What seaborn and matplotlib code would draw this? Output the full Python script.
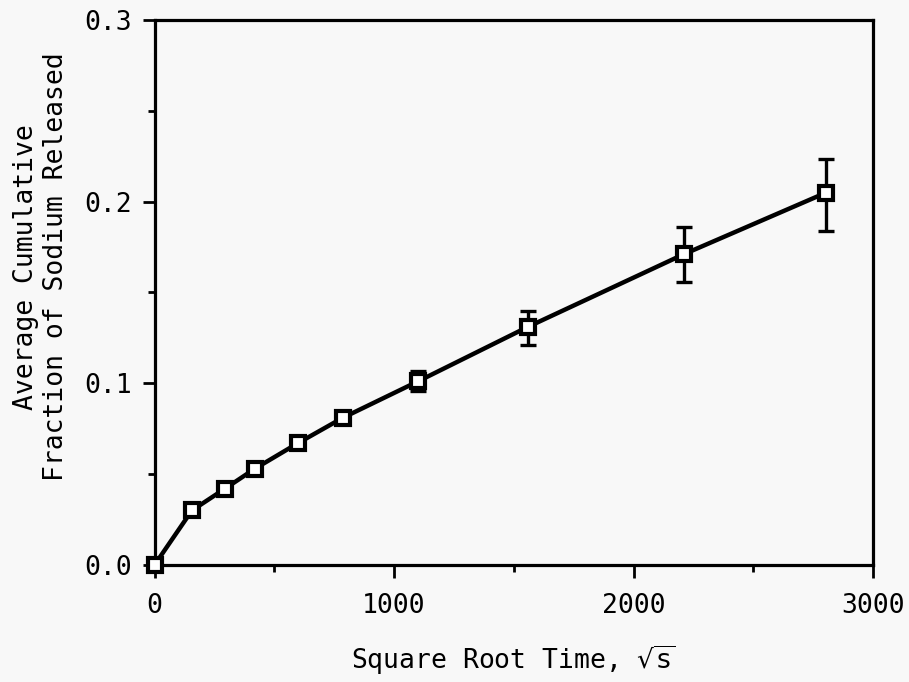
import matplotlib
matplotlib.use("Agg")
from matplotlib import pyplot as plt
from matplotlib.ticker import MultipleLocator
import numpy as np
import seaborn as sns

# sqrt time (sqrt s) and average cumulative fraction of Na released
sqrt_time = [0, 156, 294, 419, 598, 786, 1099, 1558, 2209, 2805]
na_fraction = [0.0, 0.030, 0.042, 0.053, 0.067, 0.081, 0.101, 0.131, 0.171, 0.205]
err_low = [np.nan, np.nan, np.nan, np.nan, np.nan, np.nan, 0.096, 0.121, 0.156, 0.184]
err_high = [np.nan, np.nan, np.nan, np.nan, np.nan, np.nan, 0.107, 0.140, 0.186, 0.2235]

x_ticks = [0, 1000, 2000, 3000]
y_ticks = [0.0, 0.1, 0.2, 0.3]

sns.set_style("ticks")
plt.rcParams['font.family'] = ['DejaVu Sans Mono', 'DejaVu Sans']
plt.rcParams['font.size'] = 19
plt.rcParams['text.color'] = 'black'
plt.rcParams['axes.labelcolor'] = 'black'

fig = plt.figure(figsize=(9.09, 6.82), dpi=100, facecolor='#f8f8f8')
ax = fig.add_axes([0.170, 0.1716, 0.7904, 0.7991])
ax.set_facecolor('#f8f8f8')

sns.lineplot(x=sqrt_time, y=na_fraction, color='black', linewidth=3.2, ax=ax,
             zorder=2, clip_on=False)

y = np.array(na_fraction)
lo = y - np.array(err_low)
hi = np.array(err_high) - y
ax.errorbar(sqrt_time, na_fraction, yerr=[lo, hi], fmt='none', ecolor='black',
            elinewidth=2.4, capsize=5.5, capthick=2.4, zorder=3)
ax.plot(sqrt_time, na_fraction, linestyle='none', marker='s', markersize=9.5,
        markerfacecolor='white', markeredgecolor='black', markeredgewidth=3.0,
        zorder=4, clip_on=False)

ax.set_xlim(0, 3000)
ax.set_ylim(0, 0.3)
ax.set_xticks(x_ticks)
ax.set_xticklabels([str(t) for t in x_ticks])
ax.set_yticks(y_ticks)
ax.set_yticklabels(['%.1f' % t for t in y_ticks])
ax.xaxis.set_minor_locator(MultipleLocator(500))
ax.yaxis.set_minor_locator(MultipleLocator(0.05))

ax.tick_params(which='major', direction='out', length=9, width=2.0, color='black',
               labelsize=19, labelcolor='black')
ax.tick_params(axis='x', which='major', pad=11)
ax.tick_params(axis='y', which='major', pad=7)
ax.tick_params(which='minor', direction='out', length=5, width=2.0, color='black')

for side in ['left', 'right', 'top', 'bottom']:
    ax.spines[side].set_visible(True)
    ax.spines[side].set_linewidth(2.3)
    ax.spines[side].set_color('black')

ax.set_xlabel('Square Root Time, $\\sqrt{\\mathrm{s}}$', fontsize=19, labelpad=18,
              color='black')
ax.set_ylabel('Average Cumulative\nFraction of Sodium Released', fontsize=19,
              linespacing=1.2, color='black')
ax.yaxis.set_label_coords(-0.119, 0.547)

fig.savefig('out.png', dpi=100, facecolor=fig.get_facecolor())
